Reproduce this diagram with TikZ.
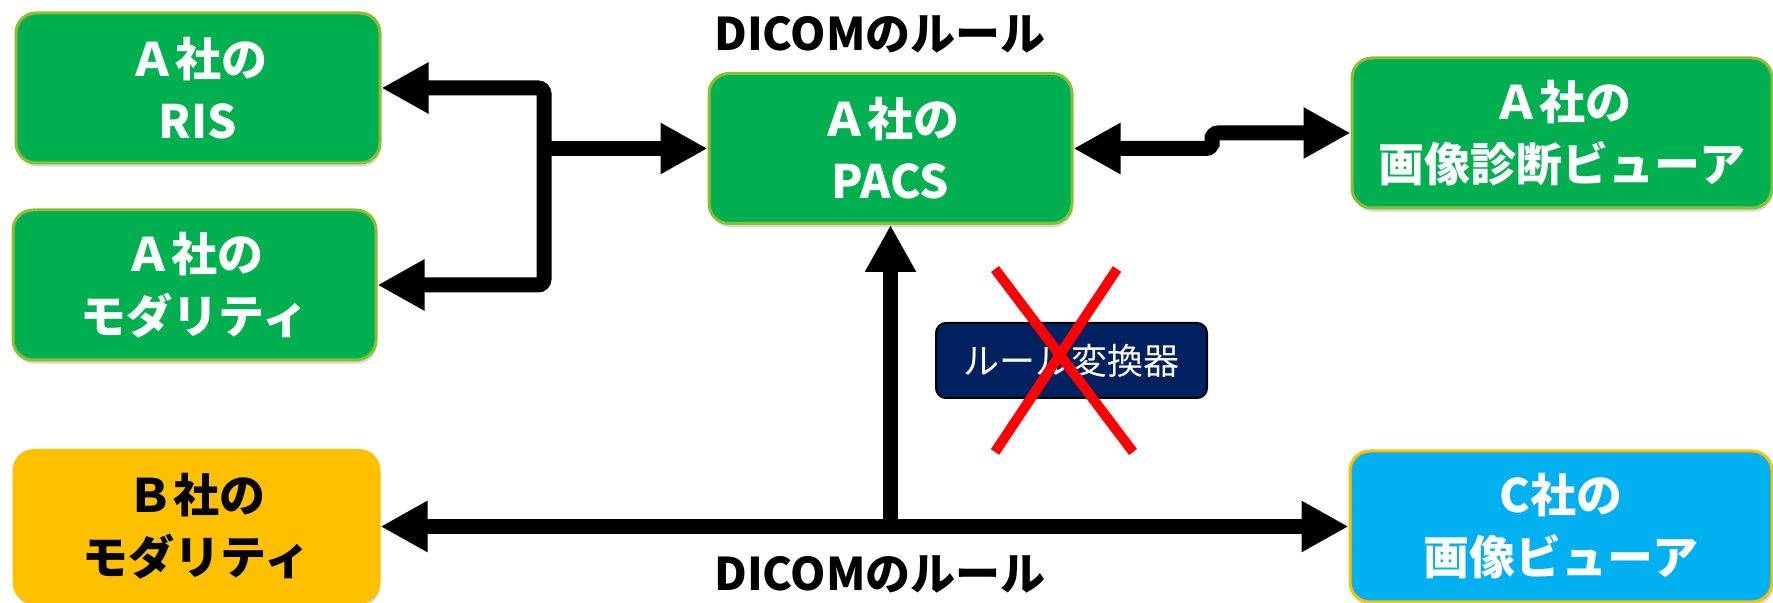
\documentclass[tikz,border=0pt]{standalone}
\usepackage{fontspec}
\setmainfont{Noto Sans CJK JP}
\usetikzlibrary{arrows.meta,shadows}
\definecolor{gfill}{RGB}{0,176,80}
\definecolor{gline}{RGB}{140,190,50}
\definecolor{ofill}{RGB}{255,192,0}
\definecolor{bfill}{RGB}{0,176,240}
\definecolor{nfill}{RGB}{0,32,96}
\definecolor{xred}{RGB}{255,0,0}
\tikzset{
  box/.style={draw, line width=1.5pt, rounded corners=10pt, align=center, inner sep=0pt,
    minimum height=75pt, font=\bfseries\fontsize{23}{31}\selectfont,
    drop shadow={shadow xshift=0.6pt, shadow yshift=-1.8pt, opacity=0.3}},
  gbox/.style={box, fill=gfill, draw=gline, text=white},
  obox/.style={box, fill=ofill, draw=ofill, text=black},
  bbox/.style={box, fill=bfill, draw=ofill, text=white},
  convbox/.style={draw=black, line width=1pt, fill=nfill, text=white, rounded corners=5pt,
    inner sep=0pt, font=\fontsize{18}{22}\selectfont},
  rulelabel/.style={font=\bfseries\fontsize{22.5}{26}\selectfont, inner sep=0pt},
  conn/.style={line width=7.5pt, rounded corners=3pt},
  cross/.style={draw=xred, line width=5pt}
}
\begin{document}
\begin{tikzpicture}[x=0.5pt,y=-0.5pt,>={Triangle[length=23.5pt,width=24pt]}]
\useasboundingbox (0,0) rectangle (1773,603);
\fill[white] (0,0) rectangle (1773,603);
% boxes
\node[gbox, minimum width=182pt] (ris) at (198,88) {Ａ社の\\RIS};
\node[gbox, minimum width=181.5pt] (amod) at (194.5,285) {Ａ社の\\モダリティ};
\node[gbox, minimum width=181.5pt] (pacs) at (890.5,148.5) {Ａ社の\\PACS};
\node[gbox, minimum width=210pt] (va) at (1562,133) {Ａ社の\\画像診断ビューア};
\node[obox, minimum width=182.5pt, minimum height=76pt] (bmod) at (196.5,526.5) {Ｂ社の\\モダリティ};
\node[bbox, minimum width=211pt, minimum height=75.5pt] (cview) at (1561,526.5) {C社の\\画像ビューア};
\node[convbox, minimum width=135.5pt, minimum height=37.5pt] (conv) at (1071.5,360.5) {ルール変換器};
% labels
\node[rulelabel] (ltop) at (880,34) {DICOMのルール};
\node[rulelabel] (lbot) at (880,574) {DICOMのルール};
% connectors
\coordinate (jx) at (544,148.5);
\draw[conn,<->] (ris.east) -| (jx) |- (amod.east);
\draw[conn,->] (jx) -- (pacs.west);
\coordinate (stp) at (1212,141);
\draw[conn,<->] (pacs.east) -| (stp) |- (va.west);
\draw[conn,<->] (bmod.east) -- (cview.west);
\coordinate (bj) at (pacs.south |- bmod.east);
\draw[conn,->,rounded corners=0pt] (bj) -- (pacs.south);
% red cross
\draw[cross] (995,269) -- (1133,452);
\draw[cross] (1117,269) -- (995,452);
\end{tikzpicture}
\end{document}
